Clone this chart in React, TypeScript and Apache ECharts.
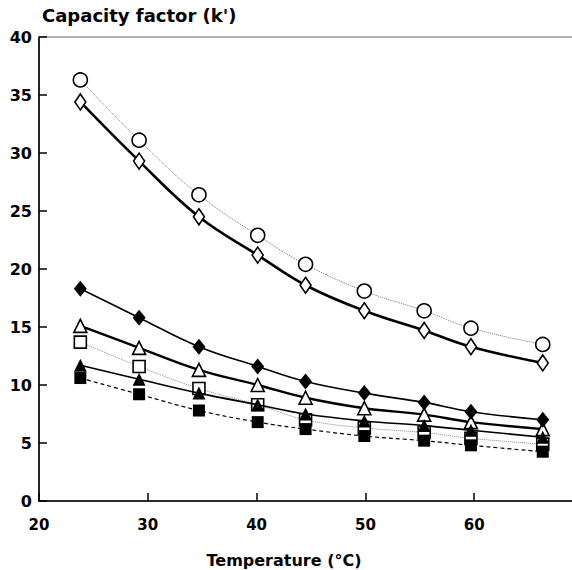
import React, { useEffect, useRef } from "react";
import * as echarts from "echarts";

const temperatures = [23.8, 29.2, 34.7, 40.1, 44.5, 49.9, 55.4, 59.7, 66.3];
const openCircle = [36.3, 31.1, 26.4, 22.9, 20.4, 18.1, 16.4, 14.9, 13.5];
const openDiamond = [34.4, 29.3, 24.5, 21.2, 18.6, 16.4, 14.7, 13.3, 11.9];
const filledDiamond = [18.3, 15.8, 13.3, 11.6, 10.3, 9.3, 8.5, 7.7, 7.0];
const openTriangle = [15.1, 13.2, 11.3, 10.0, 8.9, 8.0, 7.45, 6.8, 6.2];
const openSquare = [13.7, 11.6, 9.7, 8.3, 7.0, 6.3, 5.9, 5.4, 4.9];
const filledTriangle = [11.7, 10.5, 9.3, 8.3, 7.5, 6.9, 6.5, 6.1, 5.5];
const filledSquare = [10.6, 9.2, 7.8, 6.8, 6.2, 5.6, 5.2, 4.8, 4.25];

const yTicks = [0, 5, 10, 15, 20, 25, 30, 35, 40];
const xTicks = [20, 30, 40, 50, 60];

const FONT = "DejaVu Sans";

function pts(vals: number[]) {
  return temperatures.map((t, i) => [t, vals[i]]);
}

export default function App() {
  const ref = useRef<HTMLDivElement>(null);
  useEffect(() => {
    if (!ref.current) return;
    const chart = echarts.init(ref.current, undefined, { renderer: "svg" });
    const mk = (
      name: string,
      vals: number[],
      symbol: string,
      size: any,
      filled: boolean,
      line: any,
      z: number
    ) => ({
      name,
      type: "line",
      data: pts(vals),
      smooth: 0.4,
      symbol,
      symbolSize: size,
      showSymbol: true,
      z,
      lineStyle: line,
      itemStyle: {
        color: filled ? "#000" : "#fff",
        borderColor: "#000",
        borderWidth: filled ? 0 : 1.6,
        opacity: 1,
      },
    });
    chart.setOption({
      animation: false,
      backgroundColor: "#fff",
      grid: {
        left: 39,
        width: 544,
        top: 37,
        bottom: 69,
        show: true,
        borderColor: "#666",
        borderWidth: 1,
        containLabel: false,
        outerBoundsMode: "none",
      },
      xAxis: {
        type: "value",
        min: 20,
        max: 70,
        interval: 10,
        axisLine: { show: true, onZero: false, lineStyle: { color: "#000", width: 1.6 } },
        axisTick: { show: true, inside: true, length: 8, lineStyle: { color: "#000", width: 1.5 } },
        axisLabel: {
          margin: 16,
          color: "#000",
          fontFamily: FONT,
          fontWeight: "bold",
          fontSize: 15,
          formatter: (v: number) => (xTicks.includes(v) ? String(v) : ""),
        },
        splitLine: { show: false },
      },
      yAxis: {
        type: "value",
        min: 0,
        max: 40,
        interval: 5,
        axisLine: { show: true, lineStyle: { color: "#000", width: 1.6 } },
        axisTick: { show: true, inside: true, length: 8, lineStyle: { color: "#000", width: 1.5 } },
        axisLabel: {
          margin: 7,
          color: "#000",
          fontFamily: FONT,
          fontWeight: "bold",
          fontSize: 16,
          formatter: (v: number) => (yTicks.includes(v) ? String(v) : ""),
        },
        splitLine: { show: false },
      },
      graphic: [
        {
          type: "text",
          left: 42,
          top: 6,
          style: { text: "Capacity factor (k')", font: `bold 18px "${FONT}"`, fill: "#000" },
        },
        {
          type: "text",
          x: 284,
          y: 560,
          style: {
            text: "Temperature (°C)",
            font: `bold 16px "${FONT}"`,
            fill: "#000",
            textAlign: "center",
            textVerticalAlign: "middle",
          },
        },
      ],
      series: [
        mk("circle", openCircle, "circle", 14, false, { color: "#777", width: 1, type: "dotted" }, 2),
        mk("openDiamond", openDiamond, "diamond", [11, 16], false, { color: "#000", width: 2.6 }, 3),
        mk("filledDiamond", filledDiamond, "diamond", [13, 16], true, { color: "#000", width: 1.6 }, 4),
        mk("openTriangle", openTriangle, "triangle", 13, false, { color: "#000", width: 2.4 }, 3),
        mk("openSquare", openSquare, "rect", 12, false, { color: "#888", width: 1, type: "dotted" }, 2),
        mk("filledTriangle", filledTriangle, "triangle", 13, true, { color: "#000", width: 1.6 }, 4),
        mk("filledSquare", filledSquare, "rect", 12, true, { color: "#000", width: 1.2, type: [4, 3] }, 4),
      ],
    });
    return () => chart.dispose();
  }, []);
  return (
    <div
      ref={ref}
      style={{ position: "fixed", left: 0, top: 0, width: 572, height: 570, background: "#fff" }}
    />
  );
}
